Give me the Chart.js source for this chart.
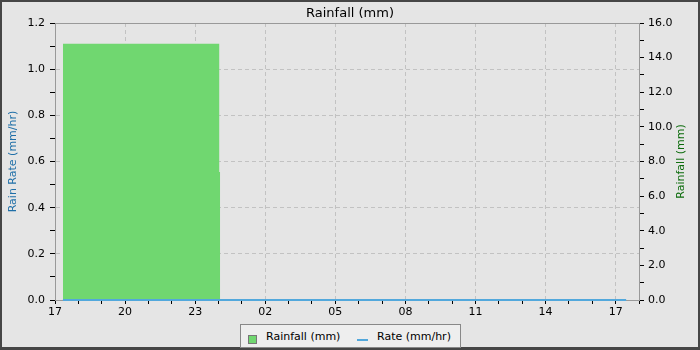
<!DOCTYPE html>
<html>
<head>
<meta charset="utf-8">
<script src="https://cdn.jsdelivr.net/npm/chart.js@4/dist/chart.umd.min.js"></script>
<style>
  html, body { margin: 0; padding: 0; background: #e5e5e5; }
  #wrap { position: relative; width: 700px; height: 350px; }
  canvas { display: block; }
  #legend { position: absolute; left: 240px; top: 324px; width: 219px; height: 22px;
    border: 1px solid #888; background: #eeeeee; font-family: "DejaVu Sans", sans-serif;
    font-size: 11px; color: #000; }
  #legend .sw { position: absolute; left: 7px; top: 10px; width: 7px; height: 7px; background: #70d770; border: 1px solid #777; }
  #legend .t1 { position: absolute; left: 25px; top: 5px; }
  #legend .ln { position: absolute; left: 116px; top: 14px; width: 11px; height: 2px; background: #52a8dc; }
  #legend .t2 { position: absolute; left: 136px; top: 5px; }
</style>
</head>
<body>
<div id="wrap">
  <canvas id="c" width="700" height="350"></canvas>
  <div id="legend">
    <div class="sw"></div><span class="t1">Rainfall (mm)</span>
    <div class="ln"></div><span class="t2">Rate (mm/hr)</span>
  </div>
</div>
<script>
// ---- data (x in hours after 17:00 on the first day) ----
const tickLabels = ['17', '20', '23', '02', '05', '08', '11', '14', '17'];
const rainStart = [0.34, 7.03];
const rainEnd   = [7.03, 7.07];
const rainMm    = [14.8, 7.4];
const rateHours = [0.34, 24.45];
const rateMmHr  = [0, 0];

// build step outline for rainfall
const rainPts = [];
for (let i = 0; i < rainMm.length; i++) {
  if (i === 0) rainPts.push({x: rainStart[i], y: 0});
  rainPts.push({x: rainStart[i], y: rainMm[i]});
  rainPts.push({x: rainEnd[i], y: rainMm[i]});
}
rainPts.push({x: rainEnd[rainEnd.length - 1], y: 0});
const ratePts = rateHours.map((h, i) => ({x: h, y: rateMmHr[i]}));

const FONT = "'DejaVu Sans', sans-serif";
const GRID = '#c2c2c2';

const framePlugin = {
  id: 'frame',
  beforeDraw(chart) {
    const ctx = chart.ctx;
    ctx.save();
    ctx.fillStyle = '#e5e5e5';
    ctx.fillRect(0, 0, chart.width, chart.height);
    ctx.restore();
  },
  afterDraw(chart) {
    const ctx = chart.ctx, a = chart.chartArea;
    ctx.save();
    // top border of plot
    ctx.strokeStyle = '#999';
    ctx.lineWidth = 1;
    ctx.beginPath();
    ctx.moveTo(a.left, Math.round(a.top) + 0.5);
    ctx.lineTo(a.right, Math.round(a.top) + 0.5);
    ctx.stroke();
    // right axis title (reads bottom-to-top)
    ctx.translate(681, (a.top + a.bottom) / 2);
    ctx.rotate(-Math.PI / 2);
    ctx.fillStyle = '#0b6b0b';
    ctx.font = "11px " + FONT;
    ctx.textAlign = 'center';
    ctx.textBaseline = 'middle';
    ctx.fillText('Rainfall (mm)', 0, 0);
    ctx.restore();
    // outer frame
    ctx.save();
    ctx.strokeStyle = '#464646';
    ctx.lineWidth = 2;
    ctx.strokeRect(1, 1, chart.width - 2, chart.height - 2);
    ctx.fillStyle = '#464646';
    ctx.fillRect(0, chart.height - 3, chart.width, 3);
    ctx.restore();
  }
};

new Chart(document.getElementById('c'), {
  type: 'line',
  data: {
    datasets: [
      {
        label: 'Rate (mm/hr)', data: ratePts, yAxisID: 'y', order: 0, clip: 3,
        borderColor: '#52a8dc', borderWidth: 2, pointRadius: 0, tension: 0, fill: false
      },
      {
        label: 'Rainfall (mm)', data: rainPts, yAxisID: 'yR', order: 1,
        borderColor: 'rgba(0,0,0,0)', borderWidth: 0, backgroundColor: '#70d770',
        pointRadius: 0, tension: 0, fill: 'origin'
      }
    ]
  },
  options: {
    responsive: false,
    animation: false,
    layout: { padding: 0 },
    plugins: {
      legend: { display: false },
      tooltip: { enabled: false },
      title: {
        display: true, text: 'Rainfall (mm)', color: '#000',
        font: { family: FONT, size: 13, weight: 'normal' },
        padding: { top: 6, bottom: 1.4 }
      }
    },
    scales: {
      x: {
        type: 'linear', min: 0, max: 25, position: 'bottom',
        afterFit(s) { s.height = 50; },
        ticks: {
          stepSize: 1, autoSkip: false, maxRotation: 0, minRotation: 0, padding: 2,
          color: '#000', font: { family: FONT, size: 11 },
          callback: (v) => (Math.round(v) % 3 === 0 ? tickLabels[Math.round(v) / 3] : '')
        },
        grid: {
          color: (c) => (c.tick && Math.round(c.tick.value) % 3 === 0 && c.tick.value > 0 ? GRID : 'rgba(0,0,0,0)'),
          tickColor: '#000', tickLength: 4, lineWidth: 1
        },
        border: { color: '#999', dash: [4, 3] }
      },
      y: {
        position: 'left', min: 0, max: 1.2,
        afterFit(s) { s.width = 55; },
        title: {
          display: true, text: 'Rain Rate (mm/hr)', color: '#1f6fa8',
          font: { family: FONT, size: 11 }, padding: { top: 7, bottom: 0 }
        },
        ticks: {
          stepSize: 0.1, autoSkip: false, padding: 5,
          color: '#000', font: { family: FONT, size: 11 },
          callback: (v) => (Math.round(v * 10) % 2 === 0 ? Number(v).toFixed(1) : '')
        },
        grid: {
          color: (c) => {
            if (!c.tick) return 'rgba(0,0,0,0)';
            const t = Math.round(c.tick.value * 10);
            return (t % 2 === 0 && t > 0 && t < 12) ? GRID : 'rgba(0,0,0,0)';
          },
          tickColor: '#000', tickLength: 5
        },
        border: { color: '#999', dash: [4, 3] }
      },
      yR: {
        position: 'right', min: 0, max: 16,
        afterFit(s) { s.width = 61; },
        ticks: {
          stepSize: 1, autoSkip: false, padding: 4,
          color: '#000', font: { family: FONT, size: 11 },
          callback: (v) => (Math.round(v) % 2 === 0 ? Number(v).toFixed(1) : '')
        },
        grid: { drawOnChartArea: false, tickColor: '#000', tickLength: 5 },
        border: { color: '#999' }
      }
    }
  },
  plugins: [framePlugin]
});
</script>
</body>
</html>
